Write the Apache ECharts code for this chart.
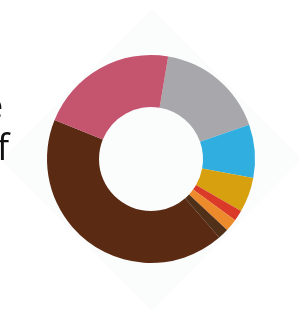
<!DOCTYPE html>
<html>
<head>
<meta charset="utf-8">
<script src="https://cdn.jsdelivr.net/npm/echarts@6/dist/echarts.min.js"></script>
<style>
html,body{margin:0;padding:0;background:#ffffff;}
#chart{width:299px;height:315px;}
</style>
</head>
<body>
<div id="chart"></div>
<script>
// Data (share of the ring, in degrees out of 360)
var categories = ['Gray', 'Blue', 'Yellow', 'Red', 'Orange', 'Dark', 'Brown', 'Pink'];
var values = [61.2, 29.8, 19.5, 6, 7, 6, 153, 77.5];
var colors = ['#a8a7ac', '#31aee0', '#d6a00e', '#dc3a28', '#ec8a2c', '#51301a', '#5b2a13', '#c5546f'];
var sideTexts = ['e', 'f'];

var chart = echarts.init(document.getElementById('chart'), null, {renderer: 'canvas'});
var data = categories.map(function (c, i) {
  return {name: c, value: values[i], itemStyle: {color: colors[i]}};
});
chart.setOption({
  animation: false,
  backgroundColor: '#ffffff',
  graphic: [
    {
      type: 'polygon', z: -10,
      shape: {points: [[152, 9], [302, 159], [152, 311], [1, 160]]},
      style: {fill: '#fbfcfc'}
    },
    {
      type: 'text', x: 3, y: 125,
      style: {text: sideTexts[0], font: '34px "Open Sans"', fill: '#111', textAlign: 'right', textVerticalAlign: 'bottom'}
    },
    {
      type: 'text', x: 9, y: 168,
      style: {text: sideTexts[1], font: '36px "Open Sans"', fill: '#111', textAlign: 'right', textVerticalAlign: 'bottom'}
    }
  ],
  series: [{
    type: 'pie',
    center: [151, 159],
    radius: [52, 104],
    startAngle: 80.5,
    clockwise: true,
    label: {show: false},
    labelLine: {show: false},
    emphasis: {disabled: true},
    silent: true,
    itemStyle: {borderWidth: 0},
    data: data
  }]
});
</script>
</body>
</html>
